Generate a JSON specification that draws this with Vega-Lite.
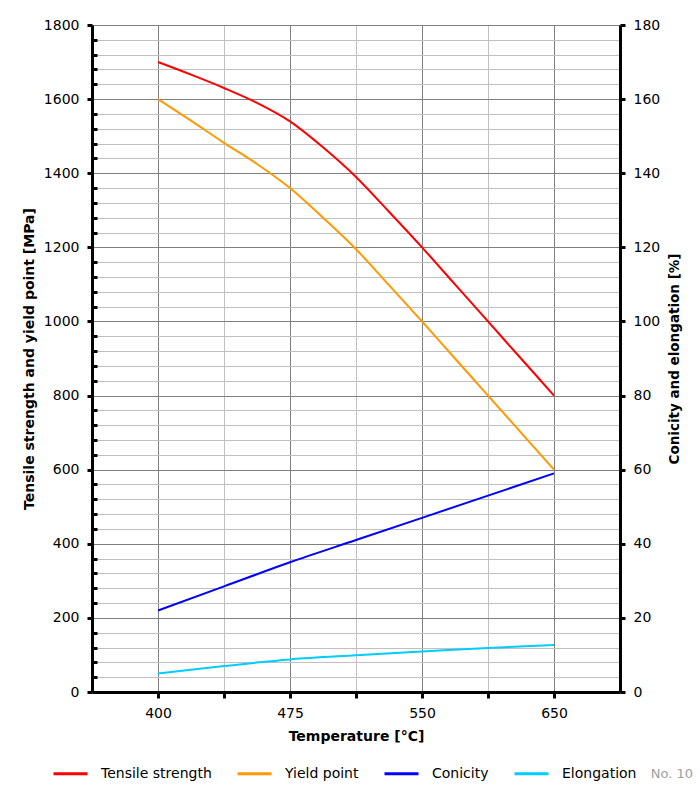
{
  "$schema": "https://vega.github.io/schema/vega-lite/v6.json",
  "width": 528,
  "height": 667,
  "autosize": "none",
  "padding": {"left": 92, "top": 25, "right": 80, "bottom": 100},
  "background": "white",
  "config": {
    "view": {"stroke": null},
    "font": "DejaVu Sans",
    "axis": {"labelFont": "DejaVu Sans", "titleFont": "DejaVu Sans", "labelColor": "black", "titleColor": "black", "labelFontSize": 14, "titleFontSize": 14, "titleFontWeight": "bold", "domainColor": "black", "domainWidth": 3, "tickColor": "black", "tickWidth": 3, "gridWidth": 1}
  },
  "title": {"text": "No. 10", "orient": "bottom", "anchor": "end", "frame": "group", "fontSize": 13, "fontWeight": "normal", "color": "#a0a0a0", "font": "DejaVu Sans", "dx": 73, "dy": -13, "offset": 0},
  "data": {"values": [
    {"t": 400, "series": "Tensile strength", "v": 1700},
    {"t": 418.75, "series": "Tensile strength", "v": 1666},
    {"t": 437.5, "series": "Tensile strength", "v": 1630},
    {"t": 456.25, "series": "Tensile strength", "v": 1590},
    {"t": 475, "series": "Tensile strength", "v": 1540},
    {"t": 493.75, "series": "Tensile strength", "v": 1470},
    {"t": 512.5, "series": "Tensile strength", "v": 1390},
    {"t": 531.25, "series": "Tensile strength", "v": 1296},
    {"t": 550, "series": "Tensile strength", "v": 1200},
    {"t": 575, "series": "Tensile strength", "v": 1100},
    {"t": 600, "series": "Tensile strength", "v": 1000},
    {"t": 625, "series": "Tensile strength", "v": 900},
    {"t": 650, "series": "Tensile strength", "v": 800},
    {"t": 400, "series": "Yield point", "v": 1600},
    {"t": 418.75, "series": "Yield point", "v": 1542},
    {"t": 437.5, "series": "Yield point", "v": 1482},
    {"t": 456.25, "series": "Yield point", "v": 1425},
    {"t": 475, "series": "Yield point", "v": 1360},
    {"t": 493.75, "series": "Yield point", "v": 1280},
    {"t": 512.5, "series": "Yield point", "v": 1195},
    {"t": 531.25, "series": "Yield point", "v": 1098},
    {"t": 550, "series": "Yield point", "v": 1000},
    {"t": 575, "series": "Yield point", "v": 900},
    {"t": 600, "series": "Yield point", "v": 800},
    {"t": 625, "series": "Yield point", "v": 700},
    {"t": 650, "series": "Yield point", "v": 600},
    {"t": 400, "series": "Conicity", "v": 22},
    {"t": 437.5, "series": "Conicity", "v": 28.5},
    {"t": 475, "series": "Conicity", "v": 35},
    {"t": 512.5, "series": "Conicity", "v": 41},
    {"t": 550, "series": "Conicity", "v": 47},
    {"t": 600, "series": "Conicity", "v": 53},
    {"t": 650, "series": "Conicity", "v": 59},
    {"t": 400, "series": "Elongation", "v": 5},
    {"t": 437.5, "series": "Elongation", "v": 7},
    {"t": 475, "series": "Elongation", "v": 8.8},
    {"t": 512.5, "series": "Elongation", "v": 9.9},
    {"t": 550, "series": "Elongation", "v": 10.9},
    {"t": 600, "series": "Elongation", "v": 11.9},
    {"t": 650, "series": "Elongation", "v": 12.7}
  ]},
  "layer": [
    {
      "transform": [{"filter": "datum.series === 'Tensile strength' || datum.series === 'Yield point'"}],
      "mark": {"type": "line", "strokeWidth": 2, "interpolate": "monotone"},
      "encoding": {
        "x": {"field": "t", "type": "quantitative",
          "scale": {"domain": [362.5, 400, 437.5, 475, 512.5, 550, 600, 650, 700], "range": [0, 66, 132, 198, 264, 330, 396, 462, 528], "nice": false, "zero": false},
          "axis": {"title": "Temperature [°C]", "values": [400, 437.5, 475, 512.5, 550, 600, 650],
            "labelExpr": "datum.value === 400 || datum.value === 475 || datum.value === 550 || datum.value === 650 ? '' + datum.value : ''",
            "tickSize": 6, "labelPadding": 8, "titlePadding": 9,
            "gridColor": {"condition": {"test": "datum.value === 400 || datum.value === 475 || datum.value === 550 || datum.value === 650", "value": "#808080"}, "value": "#c0c0c0"}}},
        "y": {"field": "v", "type": "quantitative",
          "scale": {"domain": [0, 1800], "nice": false},
          "axis": {"title": "Tensile strength and yield point [MPa]",
            "values": [0,40,80,120,160,200,240,280,320,360,400,440,480,520,560,600,640,680,720,760,800,840,880,920,960,1000,1040,1080,1120,1160,1200,1240,1280,1320,1360,1400,1440,1480,1520,1560,1600,1640,1680,1720,1760,1800],
            "labelExpr": "datum.value % 200 === 0 ? '' + datum.value : ''",
            "tickSize": {"condition": {"test": "datum.value % 200 === 0", "value": 5}, "value": -5},
            "labelPadding": 8, "titlePadding": 7,
            "gridColor": {"condition": {"test": "datum.value % 200 === 0", "value": "#808080"}, "value": "#c0c0c0"}}},
        "color": {"field": "series", "type": "nominal",
          "scale": {"domain": ["Tensile strength", "Yield point", "Conicity", "Elongation"], "range": ["#ff0000", "#ff9900", "#0000ff", "#00ccff"]},
          "legend": {"title": null, "orient": "none", "legendX": -40, "legendY": 730, "direction": "horizontal", "symbolType": "stroke", "symbolSize": 1156, "symbolStrokeWidth": 3, "labelFontSize": 14, "labelFont": "DejaVu Sans", "labelColor": "black", "columnPadding": 19, "labelOffset": 12}}
      }
    },
    {
      "transform": [{"filter": "datum.series === 'Conicity' || datum.series === 'Elongation'"}],
      "mark": {"type": "line", "strokeWidth": 2, "interpolate": "monotone"},
      "encoding": {
        "x": {"field": "t", "type": "quantitative"},
        "y": {"field": "v", "type": "quantitative",
          "scale": {"domain": [0, 180], "nice": false},
          "axis": {"title": "Conicity and elongation [%]", "orient": "right", "grid": false,
            "values": [0,20,40,60,80,100,120,140,160,180],
            "labelExpr": "'' + datum.value",
            "tickSize": 5, "labelPadding": 8, "titlePadding": 22, "titleAngle": -90, "titleFontSize": 13.5}},
        "color": {"field": "series", "type": "nominal"}
      }
    }
  ],
  "resolve": {"scale": {"y": "independent"}}
}
